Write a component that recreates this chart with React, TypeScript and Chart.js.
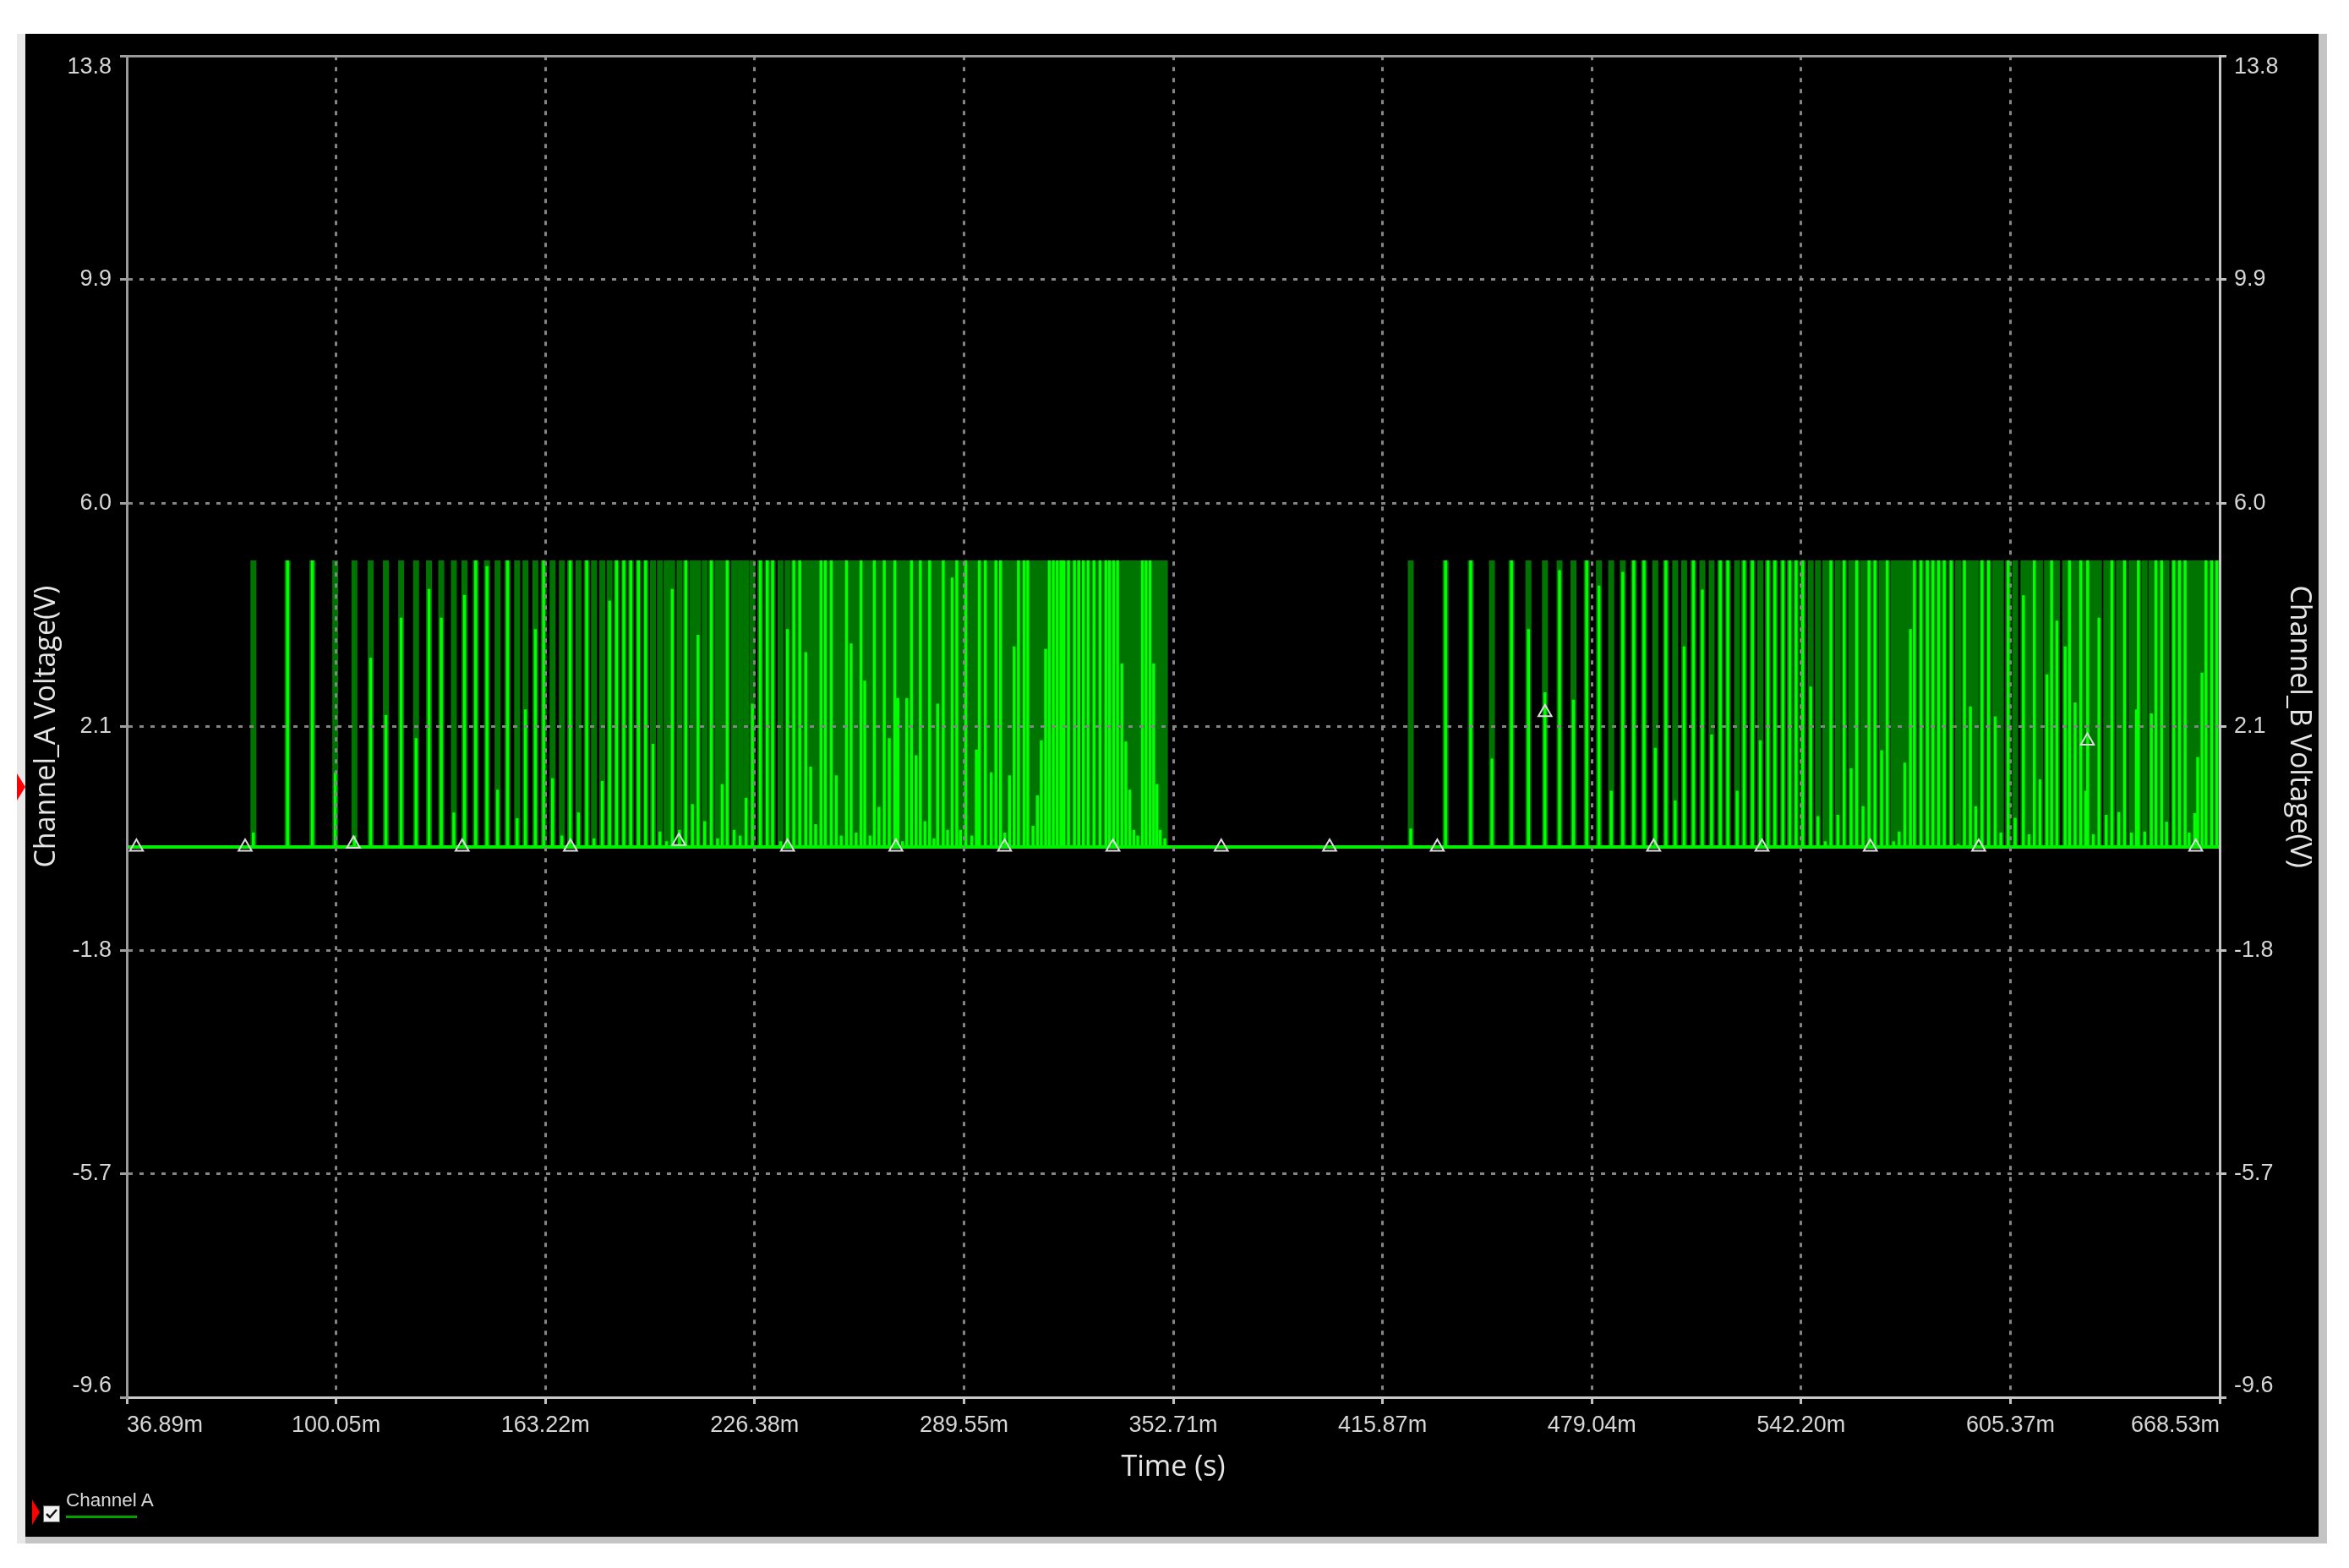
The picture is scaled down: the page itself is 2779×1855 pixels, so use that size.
import React, { useEffect, useRef } from 'react';
import { Chart, registerables } from 'chart.js';

Chart.register(...registerables);

// ---------- axis ticks ----------
const xTickValues = [36.89, 100.05, 163.22, 226.38, 289.55, 352.71, 415.87, 479.04, 542.2, 605.37, 668.53];
const xTickLabels = ['36.89m', '100.05m', '163.22m', '226.38m', '289.55m', '352.71m', '415.87m', '479.04m', '542.20m', '605.37m', '668.53m'];
const yTickValues = [-9.6, -5.7, -1.8, 2.1, 6.0, 9.9, 13.8];
const yTickLabels = ['-9.6', '-5.7', '-1.8', '2.1', '6.0', '9.9', '13.8'];

// ---------- signal (Channel A), times in ms, peaks in V ----------
const pulseHighLevel = 5.0;

const pulseTimesA = [
  75.1, 85.4, 92.9, 99.8, 105.6, 110.5, 115.1, 119.7, 124.2, 128.1,
  131.8, 135.6, 138.8, 142.2, 145.6, 148.8, 151.8, 154.7, 157.2, 160.2,
  162.7, 165.4, 168.2, 170.7, 173.2, 175.7, 177.9, 180.4, 182.6, 184.7,
  186.9, 189.0, 191.3, 193.5, 195.7, 197.8, 199.8, 201.5, 203.7, 205.6,
  207.6, 209.3, 211.3, 213.3, 215.2,
  216.6, 218.1, 220.2, 222.0, 223.8, 225.7, 228.1, 230.2, 231.8, 234.2,
  236.3, 238.2, 240.0, 241.8, 243.3, 244.8, 246.4, 247.7, 249.5, 251.0,
  252.5, 254.1, 255.5, 257.0, 258.5, 259.6, 261.2, 262.5, 263.9, 265.5,
  267.0, 268.7, 269.6, 271.0, 272.3, 273.7, 275.1, 276.4, 277.8, 279.2,
  280.5, 281.6, 283.3, 284.6, 286.0, 287.4, 288.5, 290.1, 291.9, 293.3,
  294.2, 296.0, 297.8, 299.2, 300.6, 301.9, 303.3, 304.7, 306.0, 307.7,
  308.8, 310.4, 311.7, 312.9, 314.2, 315.3, 316.5, 317.7, 318.8, 319.7,
  321.1, 322.9, 324.2, 325.6, 327.0, 328.8, 330.6, 332.4, 333.5, 334.7,
  335.9, 337.2, 338.4, 339.6, 340.8, 342.0, 343.4, 344.5, 345.7, 346.8,
  347.8, 348.8, 350.2,
];
const pulsePeaksA = [
  0.25, 5, 5, 1.3, 0.2, 3.3, 2.3, 4.0, 1.9, 4.5,
  4.0, 0.6, 4.4, 5, 4.9, 1.0, 5, 0.5, 2.4, 3.8,
  5, 1.2, 0.2, 5, 0.6, 5, 0.15, 1.15, 4.3, 5,
  5, 5, 5, 5, 1.8, 0.27, 0.1, 4.5, 0.3, 5,
  0.75, 3.7, 0.45, 5, 0.15,
  1.1, 5, 0.3, 0.2, 0.86, 2.5, 5, 5, 5, 0.1,
  3.8, 5, 5, 3.4, 1.4, 0.4, 5, 5, 5, 1.25,
  0.2, 5, 3.55, 0.25, 5, 2.9, 0.2, 5, 0.7, 5,
  1.9, 5, 2.6, 0.1, 2.6, 5, 1.6, 5, 0.45, 5,
  0.15, 2.5, 5, 0.3, 4.7, 5, 0.3, 5, 0.2, 1.7,
  5, 5, 1.3, 5, 5, 0.25, 1.25, 3.5, 5, 5,
  5, 0.37, 0.9, 1.86, 3.46, 5, 5, 5, 5, 5,
  5, 5, 5, 5, 5, 5, 5, 5, 5, 5,
  5, 3.2, 1.84, 1.0, 0.3, 0.2, 5, 5, 5, 3.2,
  1.1, 0.3, 0.15,
];

const pulseTimesB = [
  424.4, 434.9, 442.5, 448.9, 454.8, 459.9, 464.9, 469.3, 473.5, 477.5,
  481.2, 484.9, 488.4, 491.7, 494.8, 498.2, 501.4, 504.2, 506.9, 509.7,
  512.4, 515.2, 517.8, 520.1, 522.9, 525.0, 527.5, 529.9, 532.2, 534.3,
  536.7, 538.8, 540.7, 542.7, 545.1, 547.3, 549.5, 551.2, 553.3, 555.2,
  557.3, 559.0, 560.9, 562.7, 564.5, 566.5, 568.2, 570.1, 571.8, 573.5,
  575.2, 576.4, 578.4, 580.3, 582.0, 583.7, 585.4, 587.5, 589.6, 591.5,
  593.3, 594.9, 596.8, 598.8, 600.8, 602.5, 604.7, 606.8, 609.3, 611.0,
  612.6, 614.3, 616.4, 617.8, 619.4, 621.9, 623.2, 624.9, 626.6, 628.1,
  628.7, 630.4, 632.1, 634.3, 636.0, 638.1, 639.8, 641.9, 643.4, 644.0,
  645.9, 647.9, 649.3, 651.0, 652.5, 654.7, 656.4, 658.1, 659.3, 661.0,
  661.9, 663.2, 664.4, 666.1, 667.7,
];
const pulsePeaksB = [
  0.32, 5, 5, 1.54, 5, 3.8, 2.7, 4.83, 2.57, 5,
  4.56, 0.98, 4.8, 5, 5, 1.73, 5, 0.81, 3.5, 5,
  4.49, 1.96, 5, 5, 0.98, 5, 5, 1.86, 5, 5,
  5, 5, 5, 5, 2.8, 0.54, 0.1, 5, 0.56, 5,
  1.37, 5, 0.71, 5, 5, 1.69, 5, 0.1, 0.27, 1.47,
  3.8, 5, 5, 5, 5, 5, 5, 5, 0.05, 5,
  2.45, 0.71, 5, 5, 2.28, 0.25, 5, 0.51, 4.39, 0.22,
  5, 1.18, 3.01, 5, 3.95, 3.5, 5, 2.52, 5, 0.98,
  5, 0.22, 4.0, 0.56, 5, 0.61, 5, 0.25, 2.4, 5,
  0.27, 2.33, 5, 5, 0.44, 5, 5, 5, 0.25, 0.59,
  1.57, 3.04, 5, 5, 5,
];

// sample markers (triangles) on the trace
const markerTimes = [39.8, 72.6, 105.3, 138.1, 170.8, 203.5, 236.3, 269.0, 301.8, 334.5, 367.2, 399.9, 432.4, 464.9, 497.7, 530.4, 563.1, 595.8, 628.6, 661.3];
const markerValues = [0, 0, 0.05, 0, 0, 0.1, 0, 0, 0, 0, 0, 0, 0, 2.35, 0, 0, 0, 0, 1.85, 0];

// ---------- styling ----------
const TICK_FONT = { family: "'Liberation Sans', Arial, sans-serif", size: 27 };
const TITLE_FONT = { family: "'Open Sans', 'Liberation Sans', sans-serif", size: 34 };
const TICK_COLOR = '#d6d6d6';
const TITLE_COLOR = '#e6e6e6';
const GRID_COLOR = '#858585';
const GRID_DASH = [5, 8];

function spikeSeries(times: number[], peaks: number[]) {
  const pts: { x: number; y: number | null }[] = [];
  times.forEach((t, i) => {
    pts.push({ x: t, y: 0 }, { x: t, y: peaks[i] }, { x: t, y: null });
  });
  return pts;
}

const innerYLabels = {
  id: 'innerYLabels',
  beforeDraw(chart: any) {
    ['y', 'y1'].forEach((id) => {
      const s: any = chart.scales[id];
      if (!s || typeof s.getLabelItems !== 'function') return;
      const items = s.getLabelItems();
      if (!items || !items.length) return;
      items[0].options.textBaseline = 'bottom';
      items[items.length - 1].options.textBaseline = 'top';
    });
  },
};

export default function App() {
  const ref = useRef<HTMLCanvasElement>(null);

  useEffect(() => {
    if (!ref.current) return;
    const allTimes = [...pulseTimesA, ...pulseTimesB];
    const allPeaks = [...pulsePeaksA, ...pulsePeaksB];
    const xMin = xTickValues[0];
    const xMax = xTickValues[xTickValues.length - 1];
    const yMin = yTickValues[0];
    const yMax = yTickValues[yTickValues.length - 1];

    const chart = new Chart(ref.current, {
      type: 'line',
      data: {
        datasets: [
          {
            label: 'markers',
            data: markerTimes.map((t, i) => ({ x: t, y: markerValues[i] })),
            showLine: false,
            pointStyle: 'triangle',
            pointRadius: 9,
            pointBorderColor: '#dcdcdc',
            pointBackgroundColor: 'rgba(0,0,0,0)',
            pointBorderWidth: 2,
            order: 0,
          } as any,
          {
            label: 'baseline',
            data: [{ x: xMin, y: 0 }, { x: xMax, y: 0 }],
            borderColor: '#00f000',
            borderWidth: 4,
            pointRadius: 0,
            order: 1,
          },
          {
            label: 'Channel A',
            data: spikeSeries(allTimes, allPeaks),
            borderColor: '#00ff00',
            borderWidth: 3.5,
            pointRadius: 0,
            spanGaps: false,
            borderCapStyle: 'butt',
            order: 2,
          } as any,
          {
            label: 'Channel A envelope',
            data: spikeSeries(allTimes, allTimes.map(() => pulseHighLevel)),
            borderColor: '#007400',
            borderWidth: 7,
            pointRadius: 0,
            spanGaps: false,
            borderCapStyle: 'butt',
            order: 3,
          } as any,
        ],
      },
      options: {
        animation: false,
        responsive: false,
        events: [],
        layout: { padding: { top: 20, left: 0, right: 0, bottom: 0 } },
        plugins: { legend: { display: false }, tooltip: { enabled: false } },
        scales: {
          x: {
            type: 'linear',
            position: 'bottom',
            min: xMin,
            max: xMax,
            offset: false,
            afterBuildTicks: (s: any) => {
              s.ticks = xTickValues.map((v) => ({ value: v }));
            },
            afterFit: (s: any) => {
              s.height = 165;
            },
            ticks: {
              autoSkip: false,
              maxRotation: 0,
              minRotation: 0,
              align: 'inner',
              padding: 9,
              color: TICK_COLOR,
              font: TICK_FONT,
              callback: (_v: any, i: number) => xTickLabels[i],
            },
            grid: {
              color: GRID_COLOR,
              lineWidth: 3,
              tickLength: 8,
              tickColor: '#c0c0c0',
              tickWidth: 3,
              tickBorderDash: [],
              z: 1,
            },
            border: { display: true, color: '#c8c8c8', width: 3, dash: GRID_DASH, z: 2 },
            title: {
              display: true,
              text: 'Time (s)',
              color: TITLE_COLOR,
              font: TITLE_FONT,
              padding: { top: 0, bottom: 61 },
            },
          } as any,
          xTop: {
            type: 'linear',
            position: 'top',
            min: xMin,
            max: xMax,
            afterFit: (s: any) => {
              s.height = 0;
            },
            ticks: { display: false },
            grid: { display: false, drawTicks: false },
            border: { display: true, color: '#9a9a9a', width: 3, z: 2 },
          } as any,
          y: {
            type: 'linear',
            position: 'left',
            min: yMin,
            max: yMax,
            afterBuildTicks: (s: any) => {
              s.ticks = yTickValues.map((v) => ({ value: v }));
            },
            afterFit: (s: any) => {
              s.width = 120;
            },
            ticks: {
              color: TICK_COLOR,
              font: TICK_FONT,
              padding: 10,
              callback: (_v: any, i: number) => yTickLabels[i],
            },
            grid: {
              color: GRID_COLOR,
              lineWidth: 3,
              tickLength: 8,
              tickColor: '#a0a0a0',
              tickWidth: 3,
              tickBorderDash: [],
              z: 1,
            },
            border: { display: true, color: '#9a9a9a', width: 3, dash: GRID_DASH, z: 2 },
            title: {
              display: true,
              text: 'Channel_A Voltage(V)',
              color: TITLE_COLOR,
              font: TITLE_FONT,
              padding: { top: 5, bottom: 0 },
            },
          } as any,
          y1: {
            type: 'linear',
            position: 'right',
            min: yMin,
            max: yMax,
            afterBuildTicks: (s: any) => {
              s.ticks = yTickValues.map((v) => ({ value: v }));
            },
            afterFit: (s: any) => {
              s.width = 117;
            },
            ticks: {
              color: TICK_COLOR,
              font: TICK_FONT,
              padding: 9,
              callback: (_v: any, i: number) => yTickLabels[i],
            },
            grid: {
              drawOnChartArea: false,
              color: GRID_COLOR,
              lineWidth: 3,
              tickLength: 8,
              tickColor: '#c0c0c0',
              tickWidth: 3,
              tickBorderDash: [],
            },
            border: { display: true, color: '#c8c8c8', width: 3, z: 2 },
            title: {
              display: true,
              text: 'Channel_B Voltage(V)',
              color: TITLE_COLOR,
              font: TITLE_FONT,
              padding: { top: 3, bottom: 0 },
            },
          } as any,
        },
      } as any,
      plugins: [innerYLabels],
    });
    return () => chart.destroy();
  }, []);

  return (
    <div style={{ position: 'absolute', left: 0, top: 0, width: 2779, height: 1855, background: '#ffffff', overflow: 'hidden' }}>
      <div style={{ position: 'absolute', left: 20, top: 40, width: 2733, height: 1786, background: '#c4c4c4' }} />
      <div style={{ position: 'absolute', left: 20, top: 40, width: 10, height: 1786, background: '#e8e8e8' }} />
      <div style={{ position: 'absolute', left: 30, top: 40, width: 2713, height: 1778, background: '#000000' }}>
        <canvas ref={ref} width={2713} height={1778} style={{ display: 'block', width: 2713, height: 1778 }} />
      </div>
      {/* trigger level marker */}
      <div
        style={{
          position: 'absolute', left: 20, top: 915, width: 0, height: 0,
          borderTop: '16px solid transparent', borderBottom: '16px solid transparent', borderLeft: '10px solid #ff0000',
        }}
      />
      {/* legend */}
      <div
        style={{
          position: 'absolute', left: 38, top: 1774, width: 0, height: 0,
          borderTop: '15px solid transparent', borderBottom: '15px solid transparent', borderLeft: '9px solid #ff0000',
        }}
      />
      <div style={{ position: 'absolute', left: 51, top: 1781, width: 18, height: 18, background: '#f2f2f2', border: '1px solid #666' }}>
        <svg width="18" height="18" style={{ display: 'block' }}>
          <polyline points="3,9 7,13 15,4" fill="none" stroke="#111" strokeWidth="2.5" />
        </svg>
      </div>
      <div
        style={{
          position: 'absolute', left: 78, top: 1763, fontFamily: "'Liberation Sans', Arial, sans-serif",
          fontSize: 22.5, lineHeight: '23px', color: '#d8d8d8', whiteSpace: 'nowrap',
        }}
      >
        Channel A
      </div>
      <div style={{ position: 'absolute', left: 78, top: 1793, width: 84, height: 3, background: '#00a000' }} />
    </div>
  );
}
